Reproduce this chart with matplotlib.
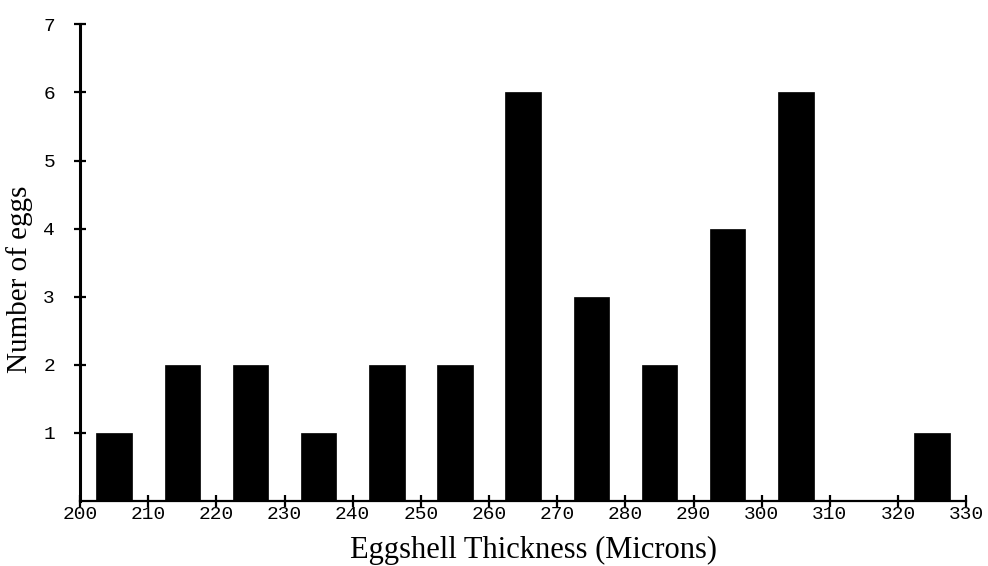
import numpy as np
import matplotlib
matplotlib.use('Agg')
import matplotlib.pyplot as plt

# bin centres (microns) and egg counts
centres = [205, 215, 225, 235, 245, 255, 265, 275, 285, 295, 305, 315, 325]
counts = [1, 2, 2, 1, 2, 2, 6, 3, 2, 4, 6, 0, 1]
xticks = list(range(200, 340, 10))
yticks = [1, 2, 3, 4, 5, 6, 7]

fig = plt.figure(figsize=(9.88, 5.66), dpi=100)
ax = fig.add_axes([0.081, 0.115, 0.897, 0.842])

ax.bar(centres, counts, width=5.2, color='black', edgecolor='black', linewidth=0.5)

ax.set_xlim(200, 330)
ax.set_ylim(0, 7)
ax.set_xticks(xticks)
ax.set_yticks(yticks)
ax.set_xticklabels([str(t) for t in xticks], family='Liberation Mono', fontsize=14)
ax.set_yticklabels([str(t) for t in yticks], family='Liberation Mono', fontsize=14)

for s in ['top', 'right']:
    ax.spines[s].set_visible(False)
ax.spines['left'].set_linewidth(2.2)
ax.spines['bottom'].set_linewidth(1.6)
ax.tick_params(axis='both', direction='inout', length=8, width=1.6, color='black')
ax.tick_params(axis='y', pad=14)
ax.tick_params(axis='x', pad=0)

ax.set_xlabel('Eggshell Thickness (Microns)', family='Liberation Serif', fontsize=22)
ax.set_ylabel('Number of eggs', family='Liberation Serif', fontsize=21)
ax.xaxis.set_label_coords(0.512, -0.074)
ax.yaxis.set_label_coords(-0.053, 0.466)

fig.savefig('out.png', dpi=100)
